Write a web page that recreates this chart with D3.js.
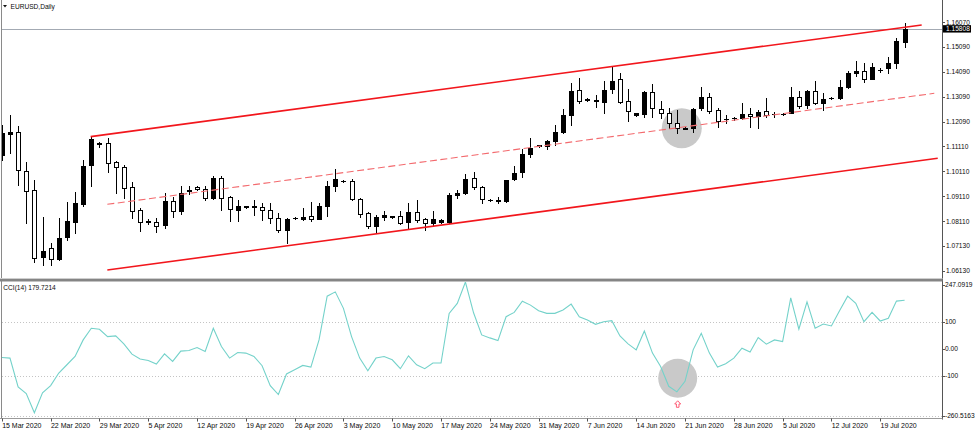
<!DOCTYPE html>
<html><head><meta charset="utf-8">
<script src="https://cdn.jsdelivr.net/npm/d3@7"></script>
<style>html,body{margin:0;padding:0;background:#fff;overflow:hidden}text{font-family:"Liberation Sans",Arial,sans-serif;fill:#0a0a0a}</style>
</head><body>
<svg id="c" width="975" height="433"></svg>
<script>
// ---------- data ----------
const symbolTitle = "EURUSD,Daily";
const cciTitle = "CCI(14) 179.7214";
const weekLabels = ["15 Mar 2020","22 Mar 2020","29 Mar 2020","5 Apr 2020","12 Apr 2020","19 Apr 2020","26 Apr 2020","3 May 2020","10 May 2020","17 May 2020","24 May 2020","31 May 2020","7 Jun 2020","14 Jun 2020","21 Jun 2020","28 Jun 2020","5 Jul 2020","12 Jul 2020","19 Jul 2020"];
const barsPerWeek = 6;
const open  = [1.1077,1.1159,1.1167,1.1014,1.0937,1.0668,1.0706,1.0660,1.0748,1.0810,1.0881,1.1037,1.1121,1.1126,1.1047,1.1030,1.0948,1.0857,1.0811,1.0809,1.0797,1.0894,1.0854,1.0933,1.0950,1.0940,1.0904,1.0986,1.0910,1.0857,1.0871,1.0871,1.0870,1.0857,1.0824,1.0777,1.0823,1.0821,1.0833,1.0821,1.0874,1.0953,1.0972,1.0974,1.0900,1.0844,1.0794,1.0830,1.0829,1.0833,1.0808,1.0848,1.0821,1.0806,1.0808,1.0810,1.0917,1.0924,1.0983,1.0948,1.0898,1.0894,1.0894,1.0979,1.1007,1.1079,1.1113,1.1114,1.1133,1.1170,1.1236,1.1336,1.1300,1.1293,1.1290,1.1340,1.1379,1.1294,1.1236,1.1240,1.1327,1.1260,1.1243,1.1206,1.1182,1.1183,1.1263,1.1307,1.1256,1.1220,1.1223,1.1223,1.1240,1.1232,1.1252,1.1239,1.1240,1.1243,1.1310,1.1276,1.1332,1.1286,1.1304,1.1303,1.1350,1.1403,1.1412,1.1380,1.1416,1.1423,1.1446,1.1529];
const high  = [1.1197,1.1236,1.1193,1.1050,1.0977,1.0830,1.0724,1.0825,1.0890,1.0930,1.1057,1.1150,1.1130,1.1143,1.1054,1.1037,1.0970,1.0865,1.0820,1.0824,1.0926,1.0910,1.0953,1.0953,1.0953,1.0953,1.0993,1.0993,1.0914,1.0897,1.0874,1.0897,1.0884,1.0886,1.0844,1.0826,1.0827,1.0864,1.0890,1.0884,1.0973,1.1021,1.0977,1.0979,1.0904,1.0848,1.0837,1.0853,1.0834,1.0853,1.0884,1.0897,1.0824,1.0853,1.0820,1.0926,1.0937,1.1001,1.1010,1.0953,1.0900,1.0910,1.0978,1.1033,1.1099,1.1146,1.1118,1.1137,1.1197,1.1259,1.1363,1.1383,1.1303,1.1316,1.1374,1.1430,1.1403,1.1339,1.1246,1.1334,1.1360,1.1294,1.1263,1.1256,1.1190,1.1263,1.1350,1.1326,1.1263,1.1236,1.1230,1.1286,1.1263,1.1256,1.1303,1.1250,1.1244,1.1347,1.1334,1.1336,1.1372,1.1326,1.1310,1.1376,1.1412,1.1454,1.1443,1.1443,1.1423,1.1467,1.1543,1.1603];
const low   = [1.1057,1.1083,1.0957,1.0804,1.0650,1.0637,1.0637,1.0657,1.0737,1.0764,1.0873,1.0953,1.1110,1.1010,1.0926,1.0904,1.0824,1.0774,1.0801,1.0770,1.0784,1.0830,1.0841,1.0921,1.0937,1.0897,1.0902,1.0857,1.0814,1.0814,1.0866,1.0837,1.0817,1.0804,1.0770,1.0726,1.0820,1.0817,1.0814,1.0820,1.0834,1.0934,1.0967,1.0897,1.0830,1.0784,1.0764,1.0817,1.0824,1.0801,1.0781,1.0810,1.0777,1.0793,1.0806,1.0804,1.0904,1.0922,1.0940,1.0886,1.0893,1.0884,1.0890,1.0977,1.0990,1.1070,1.1110,1.1099,1.1117,1.1163,1.1197,1.1286,1.1294,1.1270,1.1243,1.1323,1.1286,1.1214,1.1234,1.1230,1.1230,1.1223,1.1183,1.1166,1.1179,1.1170,1.1256,1.1246,1.1190,1.1204,1.1217,1.1222,1.1190,1.1183,1.1230,1.1227,1.1236,1.1243,1.1266,1.1266,1.1280,1.1256,1.1300,1.1302,1.1343,1.1392,1.1370,1.1379,1.1410,1.1403,1.1423,1.1507];
const close = [1.1163,1.1170,1.1017,1.0934,1.0664,1.0693,1.0660,1.0746,1.0814,1.0884,1.1034,1.1139,1.1125,1.1043,1.1030,1.0943,1.0854,1.0808,1.0809,1.0793,1.0893,1.0854,1.0924,1.0935,1.0940,1.0904,1.0983,1.0904,1.0861,1.0873,1.0869,1.0869,1.0857,1.0824,1.0777,1.0821,1.0825,1.0830,1.0820,1.0874,1.0953,1.0979,1.0974,1.0900,1.0841,1.0794,1.0830,1.0837,1.0831,1.0804,1.0848,1.0817,1.0806,1.0820,1.0817,1.0917,1.0924,1.0979,1.0948,1.0900,1.0896,1.0896,1.0977,1.1006,1.1079,1.1103,1.1115,1.1134,1.1170,1.1236,1.1334,1.1294,1.1298,1.1295,1.1336,1.1374,1.1290,1.1254,1.1243,1.1327,1.1263,1.1243,1.1203,1.1183,1.1184,1.1260,1.1307,1.1254,1.1214,1.1222,1.1225,1.1240,1.1232,1.1250,1.1236,1.1241,1.1241,1.1310,1.1272,1.1334,1.1283,1.1300,1.1306,1.1347,1.1406,1.1414,1.1379,1.1427,1.1417,1.1446,1.1533,1.15808];
const cci = [-32.6,-34.8,-141.6,-166.3,-237.4,-163.7,-136.8,-90.1,-59.5,-28.9,32.6,75.7,72.0,44.8,47.3,17.9,-20.1,-38.5,-43.6,-56.9,-19.0,-47.3,-9.0,-6.8,4.2,-10.5,75.7,7.9,-34.8,-14.2,-16.4,-28.9,-63.2,-136.8,-170.0,-93.7,-77.9,-62.1,-68.0,32.6,194.7,210.5,149.4,44.8,-34.8,-81.6,-34.8,-28.9,-41.1,-74.2,-26.3,-59.5,-74.2,-53.2,-53.2,130.9,167.8,247.1,133.1,51.0,40.0,30.0,118.4,134.6,176.2,161.5,140.5,130.9,130.9,143.1,165.2,118.4,106.3,90.4,100.0,103.7,47.3,17.9,-4.2,65.7,-16.4,-65.7,-139.4,-160.0,-121.0,-4.2,57.3,-16.4,-68.0,-55.8,-34.8,2.0,-12.7,41.1,16.8,32.6,26.3,188.4,72.0,173.7,75.7,91.5,84.2,140.5,194.7,167.8,100.0,134.6,102.6,112.5,176.2,179.7214];
const priceTicks = [1.16070,1.15090,1.14090,1.13090,1.12090,1.11110,1.10110,1.09110,1.08110,1.07130,1.06130];
const currentPrice = 1.15808;
const cciMax = 247.0919, cciMin = -260.5163;
const cciTickValues = [cciMax, 100, 0, -100, cciMin];
const cciTickLabels = ["247.0919","100","0.00","-100","-260.5163"];
const cciLevels = [100, -100, -250];
// channel anchors [bar index, price]
const channelUpper = [[10.92, 1.11501],[113.1, 1.15962]];
const channelMiddle = [[12.97, 1.08795],[114.65, 1.13232]];
const channelLower = [[12.97, 1.06169],[115.07, 1.10634]];
// highlight marks [bar index, value]
const priceCircle = [83.6, 1.11833];
const cciCircle = [83.1, -109.7];
const cciArrow = [83.1, -206];

// ---------- layout ----------
const svg = d3.select("#c");
const axisX = 942.5;
const mainTop = 0, mainBottom = 279, cciTop = 282, cciBottom = 418.5;
const x = d3.scaleLinear().domain([0, 111]).range([1.85, 904.6]);
const y = d3.scaleLinear().domain([1.06130, 1.16070]).range([271, 22.3]);
const yc = d3.scaleLinear().domain([cciMin, cciMax]).range([419, 282]);

const defs = svg.append("defs");
defs.append("clipPath").attr("id","cm").append("rect").attr("x",2).attr("y",mainTop).attr("width",axisX-2).attr("height",mainBottom-mainTop);
defs.append("clipPath").attr("id","cc").append("rect").attr("x",2).attr("y",cciTop).attr("width",axisX-2).attr("height",cciBottom-cciTop);

// ---------- main pane ----------
const gm = svg.append("g").attr("clip-path","url(#cm)");
gm.append("circle").attr("cx",x(priceCircle[0])).attr("cy",y(priceCircle[1])).attr("r",20).attr("fill","#c9c9c9");
gm.append("line").attr("x1",0).attr("x2",axisX).attr("y1",Math.round(y(currentPrice))+0.5).attr("y2",Math.round(y(currentPrice))+0.5).attr("stroke","#a3aab3").attr("stroke-width",1);

const bars = d3.range(open.length);
bars.forEach(i=>{
  const cx = Math.round(x(i));
  const yh = Math.round(y(high[i])), yl = Math.round(y(low[i]));
  gm.append("line").attr("x1",cx+0.5).attr("x2",cx+0.5).attr("y1",yh).attr("y2",yl+1).attr("stroke","#000").attr("stroke-width",1);
  const yt = Math.round(y(Math.max(open[i],close[i]))), yb = Math.round(y(Math.min(open[i],close[i])));
  const up = close[i] >= open[i];
  if (yb - yt < 1) {
    gm.append("line").attr("x1",cx-2).attr("x2",cx+3).attr("y1",yt+0.5).attr("y2",yt+0.5).attr("stroke","#000").attr("stroke-width",1);
  } else {
    gm.append("rect").attr("x",cx-1.5).attr("y",yt+0.5).attr("width",4).attr("height",yb-yt)
      .attr("fill", up ? "#000" : "#fff").attr("stroke","#000").attr("stroke-width",1);
  }
});

const ln = d3.line().x(d=>x(d[0])).y(d=>y(d[1]));
gm.append("path").attr("d",ln(channelUpper)).attr("stroke","#f2161c").attr("stroke-width",1.6).attr("fill","none");
gm.append("path").attr("d",ln(channelLower)).attr("stroke","#f2161c").attr("stroke-width",1.6).attr("fill","none");
gm.append("path").attr("d",ln(channelMiddle)).attr("stroke","#f36a6e").attr("stroke-width",1.1).attr("stroke-dasharray","7,3.5").attr("fill","none");

// ---------- CCI pane ----------
const gc = svg.append("g").attr("clip-path","url(#cc)");
cciLevels.forEach(v=>{
  const yy = Math.round(yc(v))+0.5;
  gc.append("line").attr("x1",2).attr("x2",axisX).attr("y1",yy).attr("y2",yy).attr("stroke","#c4c4c4").attr("stroke-dasharray","1,2");
});
gc.append("circle").attr("cx",x(cciCircle[0])).attr("cy",yc(cciCircle[1])).attr("r",19.5).attr("fill","#c9c9c9");
gc.append("path").attr("d",d3.line().x((d,i)=>x(i)).y(d=>yc(d))(cci)).attr("stroke","#74d2ca").attr("stroke-width",1.1).attr("fill","none");
{
  const ax = x(cciArrow[0]), ay = yc(cciArrow[1]);
  const pts = [[0,-3.5],[3,-0.3],[1.3,-0.3],[1.3,3],[-1.3,3],[-1.3,-0.3],[-3,-0.3]];
  svg.append("path").attr("d","M"+pts.map(p=>[ax+p[0],ay+p[1]].join(",")).join("L")+"Z")
    .attr("fill","none").attr("stroke","#ff4a66").attr("stroke-width",0.9);
}

// ---------- frame ----------
svg.append("line").attr("x1",1.5).attr("x2",1.5).attr("y1",0).attr("y2",cciBottom).attr("stroke","#8a8a8a");
svg.append("line").attr("x1",axisX).attr("x2",axisX).attr("y1",0).attr("y2",cciBottom+1).attr("stroke","#555");
svg.append("rect").attr("x",0).attr("y",mainBottom).attr("width",axisX).attr("height",2.5).attr("fill","#858585");
svg.append("line").attr("x1",0).attr("x2",axisX).attr("y1",mainBottom-0.5).attr("y2",mainBottom-0.5).attr("stroke","#cfcfcf");
svg.append("line").attr("x1",0).attr("x2",axisX).attr("y1",cciBottom).attr("y2",cciBottom).attr("stroke","#9a9a9a");

// ---------- titles ----------
svg.append("path").attr("d","M3,5 L7,5 L5,7.5 Z").attr("fill","#111");
svg.append("text").attr("x",10.5).attr("y",8.6).attr("font-size",6.6).text(symbolTitle);
svg.append("text").attr("x",3.3).attr("y",289.6).attr("font-size",6.6).text(cciTitle);

// ---------- price axis ----------
const fmt = d3.format(".5f");
priceTicks.forEach(p=>{
  const yy = y(p);
  svg.append("line").attr("x1",axisX).attr("x2",axisX+2.5).attr("y1",Math.round(yy)+0.5).attr("y2",Math.round(yy)+0.5).attr("stroke","#555");
  svg.append("text").attr("x",946).attr("y",yy+2.3).attr("font-size",6.6).text(fmt(p));
});
{
  const yy = y(currentPrice);
  svg.append("rect").attr("x",943).attr("y",yy-3.7).attr("width",28).attr("height",7.4).attr("fill","#000");
  svg.append("text").attr("x",946).attr("y",yy+2.3).attr("font-size",6.6).style("fill","#fff").text(fmt(currentPrice));
}

// ---------- CCI axis ----------
cciTickValues.forEach((v,k)=>{
  const yy = Math.max(285, Math.min(415.7, yc(v)));
  svg.append("line").attr("x1",axisX).attr("x2",axisX+2.5).attr("y1",Math.round(yy)+0.5).attr("y2",Math.round(yy)+0.5).attr("stroke","#555");
  svg.append("text").attr("x",945).attr("y",yy+2.3).attr("font-size",6.6).text(cciTickLabels[k]);
});

// ---------- time axis ----------
weekLabels.forEach((lab,k)=>{
  const xx = x(k*barsPerWeek);
  svg.append("line").attr("x1",Math.round(xx)+0.5).attr("x2",Math.round(xx)+0.5).attr("y1",cciBottom).attr("y2",cciBottom+3).attr("stroke","#555");
  svg.append("text").attr("x",xx+0.3).attr("y",428.3).attr("font-size",7).text(lab);
});
</script>
</body></html>
